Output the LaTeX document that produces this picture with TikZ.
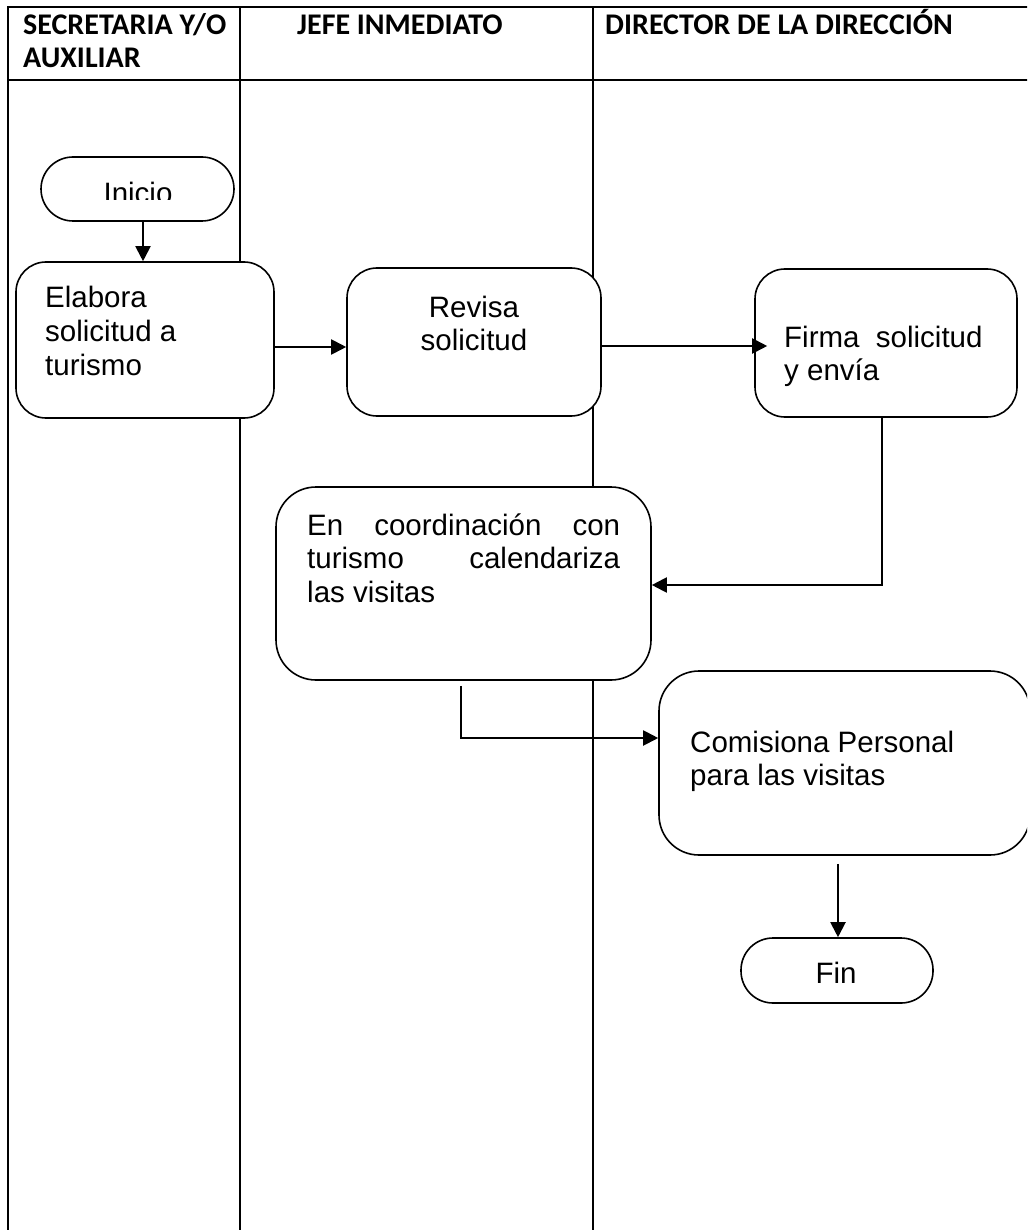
\documentclass[tikz,border=0pt]{standalone}
\usepackage{fontspec}
\setmainfont{Liberation Sans}
\newfontfamily\headfont{Carlito}
\usetikzlibrary{arrows.meta,calc}
\begin{document}
\begin{tikzpicture}[x=1pt,y=-1pt,
  lane/.style={line width=2pt},
  box/.style={draw, fill=white, line width=1.6pt, rounded corners=30pt, inner sep=0pt},
  bigbox/.style={box, rounded corners=40pt},
  term/.style={draw, fill=white, line width=1.6pt, inner sep=0pt, rounded corners=32pt},
  body/.style={font=\fontsize{29.5}{33.5}\selectfont, inner sep=0pt},
  head/.style={font=\headfont\bfseries\fontsize{30}{33}\selectfont, inner sep=0pt},
  flow/.style={line width=2pt, -{Triangle[length=15pt,width=15pt]}},
  link/.style={line width=2pt}]
\clip (0,0) rectangle (1027,1230);

% swimlane table
\draw[lane] (1040,7) -- (8,7) -- (8,1240);
\draw[lane] (8,80) -- (1040,80);
\draw[lane] (240,7) -- (240,1240);
\draw[lane] (593,7) -- (593,1240);

% lane headings
\node[head, anchor=base west] (h1) at (23,35) {\parbox[t]{215pt}{\raggedright SECRETARIA Y/O\\AUXILIAR}};
\node[head, anchor=base west] (h2) at (297,35) {JEFE INMEDIATO};
\node[head, anchor=base west] (h3) at (605,35) {DIRECTOR DE LA DIRECCIÓN};

% process shapes
\node[term, minimum width=193pt, minimum height=64pt] (inicio) at (137.5,189) {};
\begin{scope}
  \clip (41,157) rectangle (234,200);
  \node[body, anchor=base] (tinicio) at (138,204) {Inicio};
\end{scope}

\node[box, minimum width=258pt, minimum height=156pt] (elabora) at (145,340) {};
\node[body, anchor=base west] (telabora) at (45,308) {\parbox[t]{220pt}{\raggedright Elabora\\solicitud a\\turismo}};

\node[box, minimum width=254pt, minimum height=148pt] (revisa) at (474,342) {};
\node[body, anchor=base] (trevisa) at (474,317) {\parbox[t]{220pt}{\centering Revisa\\solicitud}};

\node[box, minimum width=262pt, minimum height=148pt] (firma) at (886,343) {};
\node[body, anchor=base west] (tfirma) at (784,347) {\parbox[t]{220pt}{\raggedright Firma\ \ solicitud\\y envía}};

\node[bigbox, minimum width=375pt, minimum height=193pt] (coord) at (463.5,583.5) {};
\node[body, anchor=base west] (tcoord) at (307,535) {\parbox[t]{313pt}{%
  \makebox[313pt][s]{En coordinación con}\\
  \makebox[313pt][s]{turismo calendariza}\\
  las visitas}};

\node[bigbox, minimum width=371pt, minimum height=184pt] (comis) at (844.5,763) {};
\node[body, anchor=base west] (tcomis) at (690,752) {\parbox[t]{300pt}{\raggedright Comisiona Personal\\para las visitas}};

\node[term, minimum width=192pt, minimum height=65pt] (fin) at (837,970.5) {};
\node[body, anchor=base] (tfin) at (836,983) {Fin};

% connectors
\draw[flow] (inicio.south -| 143,0) -- (elabora.north -| 143,0);
\draw[flow] (elabora.east |- 0,347) -- (revisa.west |- 0,347);
\draw[flow] (revisa.east |- 0,346) -- ($(firma.west |- 0,346)+(13,0)$);
\draw[flow] (firma.south -| 882,0) -- (882,585) -- (coord.east |- 0,585);
\draw[flow] ($(coord.south -| 461,0)+(0,5)$) -- (461,738) -- (comis.west |- 0,738);
\draw[flow] ($(comis.south -| 838,0)+(0,8)$) -- (fin.north -| 838,0);
\end{tikzpicture}
\end{document}
